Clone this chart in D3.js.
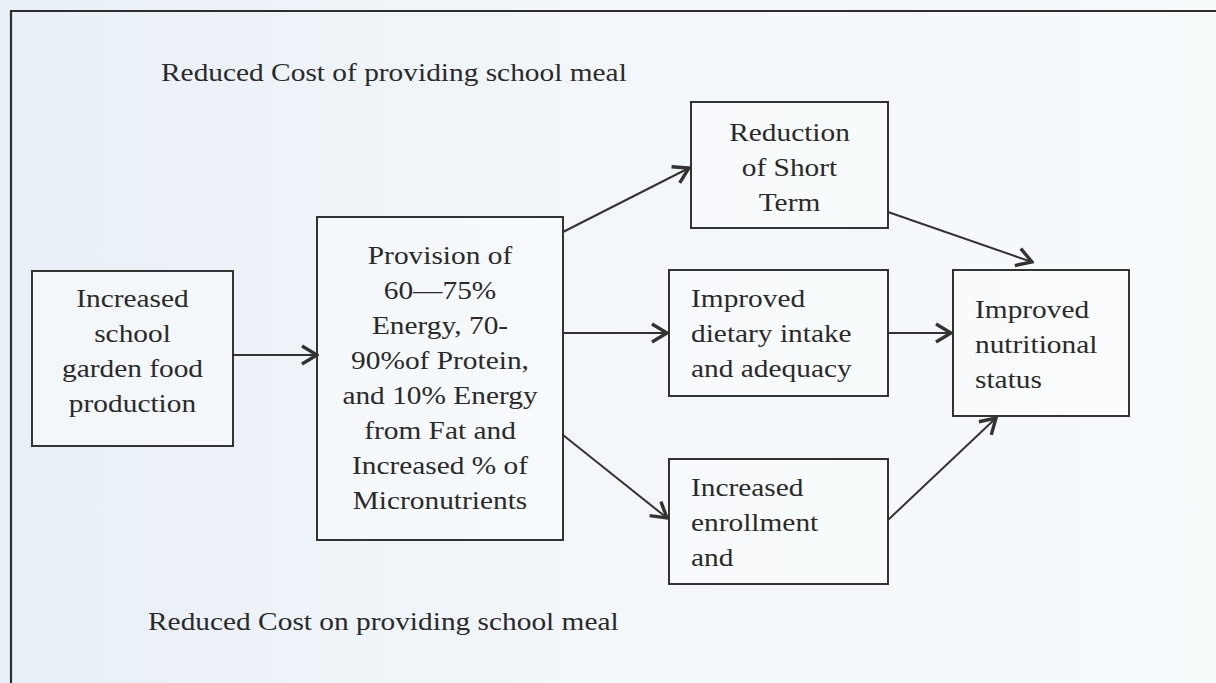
<!DOCTYPE html>
<html>
<head>
<meta charset="utf-8">
<script src="https://cdn.jsdelivr.net/npm/d3@7"></script>
<style>
  body { margin: 0; background: #f1f6fa; }
  svg { display: block; }
</style>
</head>
<body>
<svg width="1216" height="683"></svg>
<script>
// diagram content
var nodeIds = ["garden", "provision", "shortTerm", "dietary", "enroll", "status"];
var nodeLines = [
	["Increased", "school", "garden food", "production"],
	["Provision of", "60\u201475%", "Energy, 70-", "90%of Protein,", "and 10% Energy", "from Fat and", "Increased % of", "Micronutrients"],
	["Reduction", "of Short", "Term"],
	["Improved", "dietary intake", "and adequacy"],
	["Increased", "enrollment", "and"],
	["Improved", "nutritional", "status"]
];
var links = [
	["garden", "provision"],
	["provision", "shortTerm"],
	["provision", "dietary"],
	["provision", "enroll"],
	["shortTerm", "status"],
	["dietary", "status"],
	["enroll", "status"]
];
var topLabel = "Reduced Cost of providing school meal";
var bottomLabel = "Reduced Cost on providing school meal";

// layout (box geometry) kept apart from the content
var boxes = {
	garden:    { x: 32,  y: 271, w: 201, h: 175, align: "middle", first: 307 },
	provision: { x: 317, y: 217, w: 246, h: 323, align: "middle", first: 264 },
	shortTerm: { x: 691, y: 102, w: 197, h: 126, align: "middle", first: 141 },
	dietary:   { x: 669, y: 270, w: 219, h: 126, align: "start",  first: 307 },
	enroll:    { x: 669, y: 459, w: 219, h: 125, align: "start",  first: 496 },
	status:    { x: 953, y: 270, w: 176, h: 146, align: "start",  first: 318 }
};
// anchor points for the connectors
var ends = {
	"garden-provision":   [[233, 355], [317, 355]],
	"provision-shortTerm":[[563, 232], [689, 168]],
	"provision-dietary":  [[563, 333], [667, 333]],
	"provision-enroll":   [[563, 435], [667, 518]],
	"shortTerm-status":   [[888, 212], [1032, 262]],
	"dietary-status":     [[888, 333], [951, 333]],
	"enroll-status":      [[888, 520], [996, 418]]
};

var font = "Liberation Serif";
var stretch = 1.13; // the scanned type is wider than Times

var svg = d3.select("svg"),
width = +svg.attr("width"),
height = +svg.attr("height");

var defs = svg.append("defs");
var grad = defs.append("linearGradient").attr("id", "paper").attr("x1", 0).attr("x2", 1);
grad.append("stop").attr("offset", 0).attr("stop-color", "#e8eff6");
grad.append("stop").attr("offset", 0.5).attr("stop-color", "#f3f7fa");
grad.append("stop").attr("offset", 1).attr("stop-color", "#f7fafb");

defs.append("marker")
	.attr("id", "head")
	.attr("viewBox", "-18 -11 20 22")
	.attr("refX", 0).attr("refY", 0)
	.attr("markerWidth", 20).attr("markerHeight", 22)
	.attr("markerUnits", "userSpaceOnUse")
	.attr("orient", "auto")
	.append("path")
	.attr("d", "M-15,-9 L0,0 L-15,9")
	.attr("fill", "none")
	.attr("stroke", "#333")
	.attr("stroke-width", 3.4)
	.attr("stroke-linejoin", "miter");

svg.append("rect").attr("width", width).attr("height", height).attr("fill", "url(#paper)");

// frame of the scanned figure (top and left edges visible)
svg.append("path")
	.attr("d", "M11," + height + " L11,11 L" + width + ",11")
	.attr("fill", "none")
	.attr("stroke", "#2e2e2e")
	.attr("stroke-width", 2.2);

function label(sel, x, y, anchor, str) {
	return sel.append("text")
		.attr("transform", "translate(" + x + "," + y + ") scale(" + stretch + ",1)")
		.attr("text-anchor", anchor)
		.attr("font-family", font)
		.attr("font-size", 26)
		.attr("fill", "#2a2a2a")
		.text(str);
}

var lineH = 35;

var node = svg.append("g").selectAll("g")
	.data(nodeIds)
	.enter().append("g");

node.append("rect")
	.attr("x", function(d) { return boxes[d].x; })
	.attr("y", function(d) { return boxes[d].y; })
	.attr("width", function(d) { return boxes[d].w; })
	.attr("height", function(d) { return boxes[d].h; })
	.attr("fill", "#fbfdfd")
	.attr("fill-opacity", 0.5)
	.attr("stroke", "#333")
	.attr("stroke-width", 2);

node.each(function(d, i) {
	var b = boxes[d];
	var tx = b.align == "middle" ? b.x + b.w / 2 : b.x + 22;
	var g = d3.select(this);
	nodeLines[i].forEach(function(t, j) {
		label(g, tx, b.first + j * lineH, b.align, t);
	});
});

svg.append("g").selectAll("line")
	.data(links)
	.enter().append("line")
	.attr("x1", function(d) { return ends[d[0] + "-" + d[1]][0][0]; })
	.attr("y1", function(d) { return ends[d[0] + "-" + d[1]][0][1]; })
	.attr("x2", function(d) { return ends[d[0] + "-" + d[1]][1][0]; })
	.attr("y2", function(d) { return ends[d[0] + "-" + d[1]][1][1]; })
	.attr("stroke", "#333")
	.attr("stroke-width", 2)
	.attr("marker-end", "url(#head)");

label(svg, 161, 81, "start", topLabel);
label(svg, 148, 630, "start", bottomLabel);
</script>
</body>
</html>
